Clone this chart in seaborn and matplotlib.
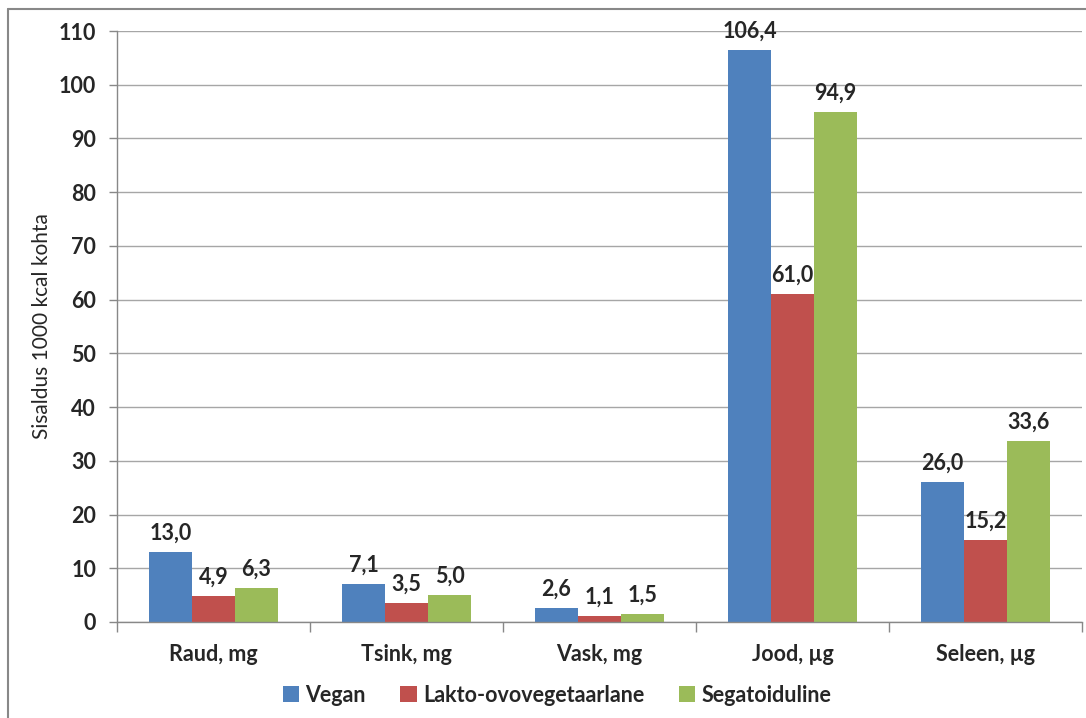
import matplotlib
matplotlib.use("Agg")
import matplotlib.pyplot as plt
from matplotlib.lines import Line2D
from matplotlib.patches import Patch
from matplotlib.ticker import FixedLocator, MultipleLocator
import seaborn as sns
import pandas as pd

# Mineral content per 1000 kcal for three diet types
categories = ["Raud, mg", "Tsink, mg", "Vask, mg", "Jood, µg", "Seleen, µg"]
series_names = ["Vegan", "Lakto-ovovegetaarlane", "Segatoiduline"]
vegan = [13.0, 7.1, 2.6, 106.4, 26.0]
lakto = [4.9, 3.5, 1.1, 61.0, 15.2]
sega = [6.3, 5.0, 1.5, 94.9, 33.6]
colors = ["#4F81BD", "#C0504D", "#9BBB59"]

rows = []
for name, vals in zip(series_names, [vegan, lakto, sega]):
    for cat, v in zip(categories, vals):
        rows.append({"Toitaine": cat, "Sisaldus": v, "Toit": name})
df = pd.DataFrame(rows)

sns.set_theme(style="white")
plt.rcParams["font.family"] = ["Lato", "DejaVu Sans"]

FS = 15.5

fig = plt.figure(figsize=(10.86, 7.18), dpi=100)
ax = fig.add_axes([117 / 1086, 1 - 622 / 718, (1082 - 117) / 1086, (622 - 31) / 718])

sns.barplot(data=df, x="Toitaine", y="Sisaldus", hue="Toit", order=categories,
            hue_order=series_names, palette=colors, width=0.668, gap=0,
            saturation=1, legend=False, ax=ax, linewidth=0)

ax.set_ylim(0, 110)
ax.set_xlim(-0.5, len(categories) - 0.5)
ax.yaxis.set_major_locator(MultipleLocator(10))
ax.grid(axis="y", color="#a6a6a6", linewidth=1)
ax.set_axisbelow(True)

for side in ["top", "right"]:
    ax.spines[side].set_visible(False)
for side in ["left", "bottom"]:
    ax.spines[side].set_color("#888888")
    ax.spines[side].set_linewidth(1)

# y ticks
ax.tick_params(axis="y", which="major", left=True, length=6, width=1,
               color="#888888", pad=9, labelsize=FS)
for t in ax.get_yticklabels():
    t.set_fontweight("bold")

# category boundaries as minor ticks, labels at centres without ticks
ax.xaxis.set_minor_locator(FixedLocator([i - 0.5 for i in range(len(categories) + 1)]))
ax.tick_params(axis="x", which="minor", bottom=True, length=7, width=1, color="#888888")
ax.tick_params(axis="x", which="major", bottom=False, length=0, pad=16, labelsize=FS)
for t in ax.get_xticklabels():
    t.set_fontweight("bold")

ax.set_xlabel("")
ax.set_ylabel("Sisaldus 1000 kcal kohta", fontsize=15)
ax.yaxis.set_label_coords(-0.0674, 0.5)

# value labels with decimal comma
for cont in ax.containers:
    labels = [f"{v:.1f}".replace(".", ",") for v in cont.datavalues]
    ax.bar_label(cont, labels=labels, padding=6, fontsize=FS, fontweight="bold")

# legend below the plot
handles = [Patch(facecolor=c, edgecolor="none") for c in colors]
fig.legend(handles, series_names, loc="center",
           bbox_to_anchor=(557 / 1086, 1 - 695 / 718), ncol=3, frameon=False,
           handlelength=0.75, handleheight=0.75, handletextpad=0.3,
           columnspacing=1.6, prop={"size": FS, "weight": "bold"})

# chart frame (left and top edges)
fig.add_artist(Line2D([8 / 1086, 8 / 1086], [0, 1 - 9 / 718], transform=fig.transFigure,
                      color="#888888", linewidth=1.5))
fig.add_artist(Line2D([8 / 1086, 1], [1 - 9 / 718, 1 - 9 / 718], transform=fig.transFigure,
                      color="#888888", linewidth=1.5))

fig.savefig("out.png", dpi=100, facecolor="white")
